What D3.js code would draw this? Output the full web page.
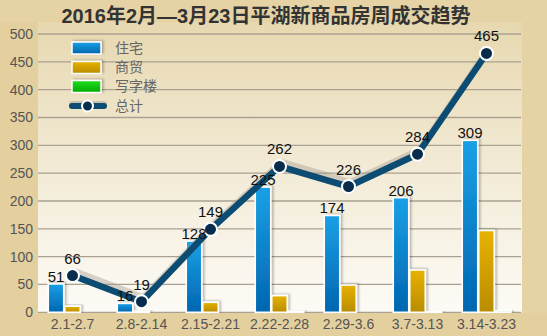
<!DOCTYPE html>
<html><head><meta charset="utf-8">
<script src="https://cdn.jsdelivr.net/npm/d3@7/dist/d3.min.js"></script>
<style>html,body{margin:0;padding:0;background:#e5d3a6;}svg{display:block;}</style>
</head><body><svg id="c" width="547" height="336"></svg>
<script>
const categories = ["2.1-2.7","2.8-2.14","2.15-2.21","2.22-2.28","2.29-3.6","3.7-3.13","3.14-3.23"];
const residential = [51,16,128,225,174,206,309];
const commercial = [11,2,18,30,49,76,147];
const office = [0,0,0,2,0,1,3];
const total = [66,19,149,262,226,284,465];
const yTicks = [0,50,100,150,200,250,300,350,400,450,500];
const seriesNames = ["住宅","商贸","写字楼","总计"];
const title = "2016年2月—3月23日平湖新商品房周成交趋势";

const svg = d3.select("#c");
const W=547,H=336;
const m={l:38,r:26,t:34,b:24};
const x0 = d3.scaleBand().domain(categories).range([m.l, W-m.r]);
const y = d3.scaleLinear().domain([0,500]).range([312.3,34]);
const barW = 16.5;
const font = "'Liberation Sans', Arial, 'Noto Sans CJK SC', sans-serif";

const defs = svg.append("defs");
const pg = defs.append("linearGradient").attr("id","pg").attr("x1",0).attr("y1",0).attr("x2",0).attr("y2",1);
pg.append("stop").attr("offset","0%").attr("stop-color","#e7d8b0");
pg.append("stop").attr("offset","55%").attr("stop-color","#f3ecd9");
pg.append("stop").attr("offset","100%").attr("stop-color","#fdfbf6");
function grad(id,c1,c2){const g=defs.append("linearGradient").attr("id",id).attr("x1",0).attr("y1",0).attr("x2",0).attr("y2",1);
 g.append("stop").attr("offset","0%").attr("stop-color",c1);g.append("stop").attr("offset","100%").attr("stop-color",c2);}
grad("gb","#1aa0e6","#0066b0");
grad("gg","#e8b200","#b88c00");
grad("gn","#22dd22","#00aa00");
const f = defs.append("filter").attr("id","sh").attr("x","-30%").attr("y","-30%").attr("width","160%").attr("height","160%");
f.append("feDropShadow").attr("dx",2).attr("dy",-1).attr("stdDeviation",1.2).attr("flood-color","#000").attr("flood-opacity",0.25);

// backgrounds
svg.append("rect").attr("x",0).attr("y",0).attr("width",W).attr("height",H).attr("fill","#e5d3a6");
svg.append("rect").attr("x",0).attr("y",22).attr("width",m.l).attr("height",291).attr("fill","#e4cf9e");
svg.append("rect").attr("x",m.l).attr("y",22).attr("width",W-m.r-m.l+1).attr("height",312.3-22).attr("fill","url(#pg)");
svg.append("rect").attr("x",0).attr("y",313).attr("width",W).attr("height",23).attr("fill","#e4d09f");

// grid + y labels
const gy = svg.append("g");
yTicks.forEach(t=>{
  gy.append("line").attr("x1",m.l).attr("x2",W-m.r).attr("y1",y(t)).attr("y2",y(t))
    .attr("stroke","#aaa192").attr("stroke-width",1.3);
});
const yAxis = d3.axisLeft(y).tickValues(yTicks).tickSize(0).tickPadding(5);
const ya = svg.append("g").attr("transform",`translate(${m.l},0)`).call(yAxis);
ya.select(".domain").remove();
ya.selectAll("text").attr("font-family",font).attr("font-size",14).attr("fill","#555");

// x labels
const xAxis = d3.axisBottom(x0).tickSize(0).tickPadding(4);
const xa = svg.append("g").attr("transform",`translate(0,313)`).call(xAxis);
xa.select(".domain").remove();
xa.selectAll("text").attr("font-family",font).attr("font-size",14).attr("fill","#555").attr("dy","0.85em");

// bars
const series = [[residential,"url(#gb)"],[commercial,"url(#gg)"],[office,"url(#gn)"]];
const gb = svg.append("g");
series.forEach(([vals,fill],si)=>{
  gb.selectAll(null).data(vals).enter().append("rect")
    .attr("x",(d,i)=>x0(categories[i])+x0.bandwidth()/2 - 1.5*barW + si*barW + 0.5)
    .attr("y",d=>y(d))
    .attr("width",barW-1)
    .attr("height",d=>y(0)-y(d))
    .attr("fill",fill).attr("stroke","#fff").attr("stroke-width",1.6)
    .attr("filter","url(#sh)");
});

// line
const cx = (d,i)=>x0(categories[i])+x0.bandwidth()/2;
const line = d3.line().x(cx).y(d=>y(d));
svg.append("path").datum(total).attr("d",line).attr("transform","translate(2,-4)")
  .attr("fill","none").attr("stroke","#9f978a").attr("stroke-opacity",0.4).attr("stroke-width",7).attr("stroke-linejoin","round");
svg.append("path").datum(total).attr("d",line)
  .attr("fill","none").attr("stroke","#0c4b72").attr("stroke-width",6.5).attr("stroke-linejoin","round");
svg.selectAll(null).data(total).enter().append("circle")
  .attr("cx",cx).attr("cy",d=>y(d)).attr("r",6.5)
  .attr("fill","#072c4c").attr("stroke","#fff").attr("stroke-width",2);

// bar labels (on top of line)
svg.selectAll(null).data(residential).enter().append("text")
  .attr("x",(d,i)=>x0(categories[i])+x0.bandwidth()/2 - barW)
  .attr("y",d=>y(d)-2)
  .attr("text-anchor","middle").attr("font-family",font).attr("font-size",15).attr("fill","#111")
  .text(d=>d);
svg.selectAll(null).data(total).enter().append("text")
  .attr("x",cx).attr("y",d=>y(d)-12)
  .attr("text-anchor","middle").attr("font-family",font).attr("font-size",15).attr("fill","#111")
  .text(d=>d);

// legend
const lg = svg.append("g");
const fills = ["url(#gb)","url(#gg)","url(#gn)"];
const ly = [48,67.5,86.5,106];
for(let i=0;i<3;i++){
  lg.append("rect").attr("x",72).attr("y",ly[i]-6).attr("width",29).attr("height",12)
    .attr("fill",fills[i]).attr("stroke","#fff").attr("stroke-width",1.5).attr("filter","url(#sh)");
}
lg.append("line").attr("x1",72).attr("x2",104).attr("y1",ly[3]-2).attr("y2",ly[3]-2)
  .attr("stroke","#9f978a").attr("stroke-opacity",0.45).attr("stroke-width",6).attr("stroke-linecap","round");
lg.append("line").attr("x1",72).attr("x2",104).attr("y1",ly[3]).attr("y2",ly[3])
  .attr("stroke","#0c4b72").attr("stroke-width",6).attr("stroke-linecap","round");
lg.append("circle").attr("cx",87.5).attr("cy",ly[3]).attr("r",5.5).attr("fill","#072c4c").attr("stroke","#fff").attr("stroke-width",2);
seriesNames.forEach((n,i)=>{
  lg.append("text").attr("x",115).attr("y",ly[i]).attr("dy","0.35em")
    .attr("font-family","'Noto Sans CJK SC', sans-serif").attr("font-size",14).attr("fill","#666").text(n);
});

// title
svg.append("text").attr("x",266).attr("y",23).attr("text-anchor","middle")
  .attr("font-family",font).attr("font-weight","bold").attr("font-size",20).attr("fill","#333").text(title);
</script></body></html>
